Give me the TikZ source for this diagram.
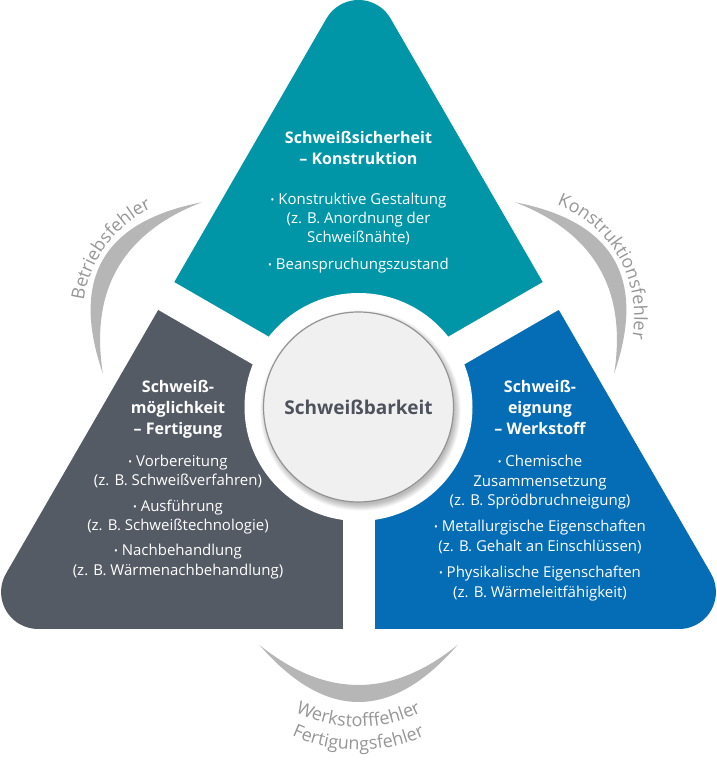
\documentclass[tikz,border=0pt]{standalone}
\usepackage{fontspec}
\setmainfont{Open Sans}
\usetikzlibrary{calc,decorations.text}
\definecolor{tealc}{RGB}{0,150,168}
\definecolor{slatec}{RGB}{85,91,101}
\definecolor{bluec}{RGB}{5,108,182}
\definecolor{arcg}{RGB}{182,182,182}
\definecolor{lblg}{RGB}{150,150,150}
\definecolor{discc}{RGB}{240,240,240}
\definecolor{ctext}{RGB}{77,82,92}
\newcommand\lblfont{\fontsize{18}{18}\selectfont\color{lblg}}
\newcommand\bul{\raisebox{0.12em}{\fontsize{10}{10}\selectfont•}\ }
\begin{document}
\begin{tikzpicture}[x=1pt,y=1pt,
  tri/.style={insert path={(390.54,744.5) arc[start angle=30,end angle=150,radius=37] -- (6.03,189.5) arc[start angle=150,end angle=270,radius=37] -- (678.93,134) arc[start angle=270,end angle=390,radius=37] -- cycle}},
  ttl/.style={text=white, font=\fontsize{16}{19}\selectfont\bfseries, anchor=base, inner sep=0pt},
  itm/.style={text=white, font=\fontsize{15}{18}\selectfont, anchor=base, inner sep=0pt},
  gapbar/.style={white, line width=32pt},
  crescent/.style={fill=arcg},
]
\useasboundingbox (0,0) rectangle (717,763);
\coordinate (G) at (358.5,356);
\coordinate (B0) at (201.75,446.5);
\coordinate (K0) at (515.25,446.5);
\coordinate (W0) at (358.5,175);
% three pieces
\begin{scope}
  \clip (G) -- ($(G)+(30:800)$) -- ($(G)+(90:800)$) -- ($(G)+(150:800)$) -- cycle;
  \path[fill=tealc, tri];
\end{scope}
\begin{scope}
  \clip (G) -- ($(G)+(150:800)$) -- ($(G)+(210:800)$) -- ($(G)+(270:800)$) -- cycle;
  \path[fill=slatec, tri];
\end{scope}
\begin{scope}
  \clip (G) -- ($(G)+(270:800)$) -- ($(G)+(330:800)$) -- ($(G)+(390:800)$) -- cycle;
  \path[fill=bluec, tri];
\end{scope}
% gaps
\foreach \a in {30,150,270} \draw[gapbar] (G) -- ($(G)+(\a:250)$);
\fill[white] (G) circle[radius=114];
% shadow
\foreach \k in {1,...,8} \fill[black, opacity=0.035] ($(G)+(2,-3.5)$) circle[radius=93+\k*0.9];
\node[circle, minimum size=190pt, inner sep=0pt, fill=discc, draw=black!42, line width=1.2pt,
      text=ctext, font=\fontsize{19}{23}\selectfont\bfseries] (hub) at (G) {Schweißbarkeit};
% crescents
\foreach \r in {0,120,240} {
  \begin{scope}[shift={(G)}, rotate=\r]
    \fill[crescent] (-99,-238) .. controls (-33,-314) and (33,-314) .. (99,-238)
      .. controls (33,-291.3) and (-33,-291.3) .. (-99,-238) -- cycle;
  \end{scope}
}
% curved labels
\path[decorate, decoration={text along path, text={|\lblfont|Betriebsfehler}, text align=center}]
  ($(B0)+(193.5:119)$) arc[start angle=193.5, end angle=93.5, radius=119];
\path[decorate, decoration={text along path, text={|\lblfont|Konstruktionsfehler}, text align=center}]
  ($(K0)+(79.5:119)$) arc[start angle=79.5, end angle=-20.5, radius=119];
\path[decorate, decoration={text along path, text={|\lblfont|Werkstofffehler}, text align=center}]
  ($(W0)+(220:139)$) arc[start angle=220, end angle=320, radius=139];
\path[decorate, decoration={text along path, text={|\lblfont|Fertigungsfehler}, text align=center}]
  ($(W0)+(220:162)$) arc[start angle=220, end angle=320, radius=162];
% titles
\foreach \x/\y/\t [count=\i] in {
  358.5/619/{Schweißsicherheit}, 358.5/598/{– Konstruktion},
  178/370/{Schweiß-}, 178/349/{möglichkeit}, 178/328/{– Fertigung},
  540/370/{Schweiß-}, 540/349/{eignung}, 540/328/{– Werkstoff}}
  \node[ttl] (T\i) at (\x,\y) {\t};
% items
\foreach \x/\y/\t [count=\i] in {
  358.5/558/{\bul Konstruktive Gestaltung}, 358.5/539/{(z. B. Anordnung der}, 358.5/520/{Schweißnähte)},
  358.5/493/{\bul Beanspruchungszustand},
  178/296/{\bul Vorbereitung}, 178/277/{(z. B. Schweißverfahren)},
  178/251/{\bul Ausführung}, 178/232/{(z. B. Schweißtechnologie)},
  178/207/{\bul Nachbehandlung}, 178/187/{(z. B. Wärmenachbehandlung)},
  540/296/{\bul Chemische}, 540/276/{Zusammensetzung}, 540/257/{(z. B. Sprödbruchneigung)},
  540/231/{\bul Metallurgische Eigenschaften}, 540/211/{(z. B. Gehalt an Einschlüssen)},
  540/185/{\bul Physikalische Eigenschaften}, 540/165/{(z. B. Wärmeleitfähigkeit)}}
  \node[itm] (I\i) at (\x,\y) {\t};
\end{tikzpicture}
\end{document}
